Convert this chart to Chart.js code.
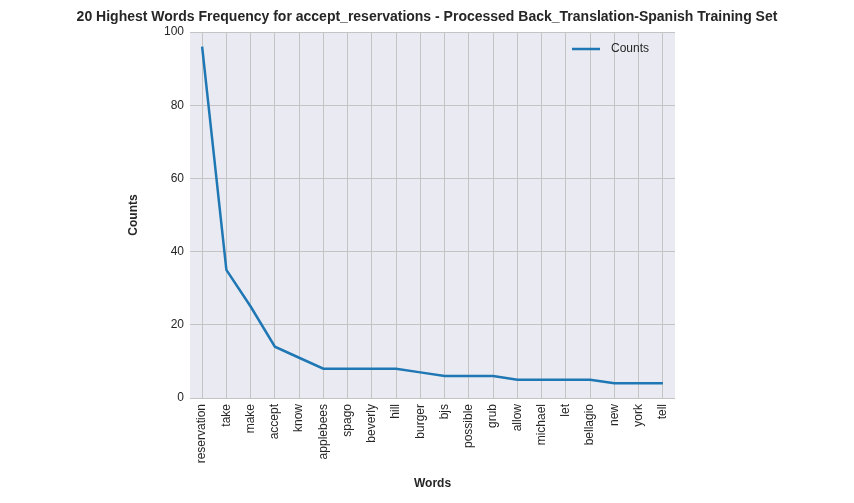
<!DOCTYPE html>
<html>
<head>
<script src="https://cdn.jsdelivr.net/npm/chart.js@4"></script>
<style>body{margin:0;background:#fff}</style>
</head>
<body>
<div style="width:854px;height:503px"><canvas id="c"></canvas></div>
<script>
const words = ['reservation','take','make','accept','know','applebees','spago','beverly','hill','burger',
    'bjs','possible','grub','allow','michael','let','bellagio','new','york','tell'];
const counts = [96,35,25,14,11,8,8,8,8,7,6,6,6,5,5,5,5,4,4,4];
const titleText = '20 Highest Words Frequency for accept_reservations - Processed Back_Translation-Spanish Training Set';
const FONT = '"Liberation Sans", Arial, sans-serif';

const plotBg = {
    id: 'plotBg',
    beforeDraw(chart) {
        const { ctx, chartArea: { left, top, width, height } } = chart;
        ctx.save();
        ctx.fillStyle = '#eaeaf2';
        ctx.fillRect(left, top, width, height);
        ctx.restore();
    },
    afterDraw(chart) {
        const { ctx, chartArea: { right, top } } = chart;
        ctx.save();
        // title over the whole canvas
        ctx.font = 'bold 14px ' + FONT;
        ctx.fillStyle = '#262626';
        ctx.textAlign = 'center';
        ctx.textBaseline = 'middle';
        ctx.fillText(titleText, chart.width / 2, 17);
        // legend in the upper right of the plot
        ctx.strokeStyle = '#1f77b4';
        ctx.lineWidth = 2.5;
        ctx.beginPath();
        ctx.moveTo(right - 103, top + 17);
        ctx.lineTo(right - 75, top + 17);
        ctx.stroke();
        ctx.font = '12px ' + FONT;
        ctx.textAlign = 'left';
        ctx.fillText('Counts', right - 64, top + 17);
        ctx.restore();
    }
};

Chart.defaults.font.family = FONT;
Chart.defaults.color = '#262626';

new Chart(document.getElementById('c'), {
    type: 'line',
    plugins: [plotBg],
    data: {
        labels: words,
        datasets: [{
            label: 'Counts',
            data: counts,
            borderColor: '#1f77b4',
            borderWidth: 2.5,
            pointRadius: 0,
            tension: 0
        }]
    },
    options: {
        responsive: true,
        maintainAspectRatio: false,
        animation: false,
        layout: { padding: { left: 122, right: 179, top: 32, bottom: 8 } },
        plugins: {
            title: { display: false },
            legend: { display: false },
            tooltip: { enabled: false }
        },
        scales: {
            x: {
                offset: true,
                afterFit(axis) { axis.height = 97; },
                title: { display: true, text: 'Words', font: { size: 12, weight: 'bold' }, padding: { top: 4 } },
                ticks: { minRotation: 90, maxRotation: 90, font: { size: 12 }, autoSkip: false, padding: 6 },
                grid: { color: '#c4c4c4', offset: false, drawTicks: false },
                border: { display: false }
            },
            y: {
                min: 0,
                max: 100,
                afterFit(axis) { axis.width = 68; },
                title: { display: true, text: 'Counts', font: { size: 12, weight: 'bold' } },
                ticks: { stepSize: 20, font: { size: 12 }, padding: 6 },
                grid: { color: '#c4c4c4', drawTicks: false },
                border: { display: false }
            }
        }
    }
});
</script>
</body>
</html>
